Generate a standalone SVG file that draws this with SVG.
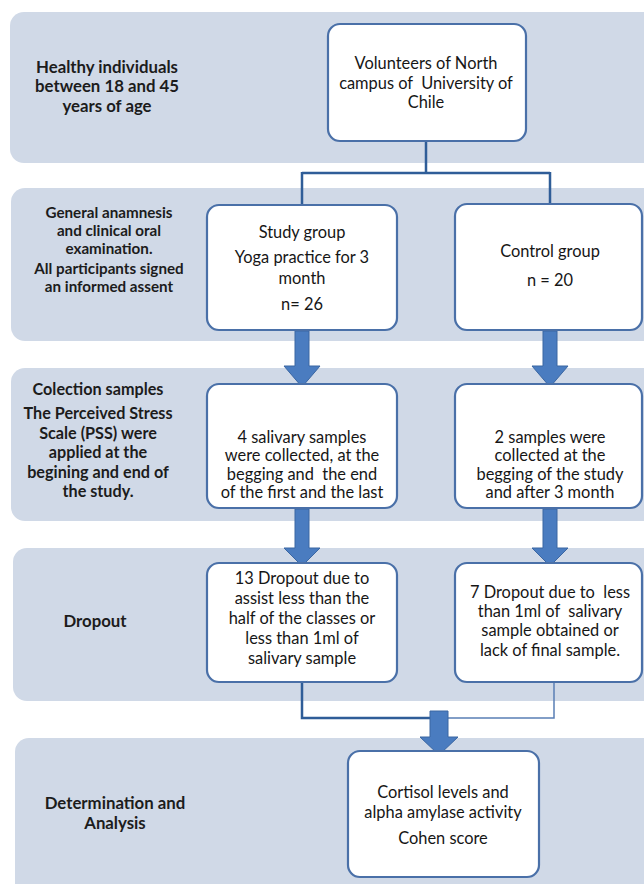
<svg xmlns="http://www.w3.org/2000/svg" width="644" height="884" viewBox="0 0 644 884">
<defs>
<style>
.band{fill:#d0d9e7;}
.box{fill:#ffffff;stroke:#4a70a8;stroke-width:2.2;}
.lbl{font-family:Lato,"Liberation Sans",sans-serif;font-size:16.8px;font-weight:bold;fill:#1c1c1c;text-anchor:middle;}
.sm{font-size:15.2px;}
.md{font-size:16.2px;}
.txt{font-family:Lato,"Liberation Sans",sans-serif;font-size:16.4px;fill:#161616;text-anchor:middle;}
.con{fill:none;stroke:#2f5d98;stroke-width:2.5;}
.arr{fill:#4a7cc0;stroke:#3a66a2;stroke-width:1;}
</style>
</defs>
<rect width="644" height="884" fill="#ffffff"/>
<g id="bands">
<rect class="band" x="10" y="12" width="660" height="151" rx="14"/>
<rect class="band" x="11" y="188" width="660" height="153" rx="14"/>
<rect class="band" x="11" y="368" width="660" height="153" rx="14"/>
<rect class="band" x="13" y="548" width="660" height="153" rx="14"/>
<rect class="band" x="15" y="738" width="660" height="160" rx="14"/>
</g>
<g id="label-row1">
<text class="lbl" x="107" y="73">Healthy individuals</text>
<text class="lbl" x="107" y="92">between 18 and 45</text>
<text class="lbl" x="107" y="112">years of age</text>
</g>
<g id="label-row2">
<text class="lbl sm" x="109" y="218">General anamnesis</text>
<text class="lbl sm" x="109" y="236">and clinical oral</text>
<text class="lbl sm" x="109" y="254">examination.</text>
<text class="lbl sm" x="109" y="274">All participants signed</text>
<text class="lbl sm" x="109" y="292">an informed assent</text>
</g>
<g id="label-row3">
<text class="lbl md" x="98" y="395">Colection samples</text>
<text class="lbl md" x="98" y="419">The Perceived Stress</text>
<text class="lbl md" x="98" y="438.5">Scale (PSS) were</text>
<text class="lbl md" x="98" y="458">applied at the</text>
<text class="lbl md" x="98" y="477.5">begining and end of</text>
<text class="lbl md" x="98" y="497">the study.</text>
</g>
<g id="label-row4">
<text class="lbl" x="95" y="627">Dropout</text>
</g>
<g id="label-row5">
<text class="lbl" x="115" y="809">Determination and</text>
<text class="lbl" x="115" y="829">Analysis</text>
</g>
<g id="connectors">
<path class="con" d="M426,141 V173 M302,173 H550 M302,172 V205 M550,172 V204"/>
<path class="con" d="M302,682 V718 H440"/>
<path fill="none" stroke="#5a7fb5" stroke-width="1.5" d="M440,718 H554 V682"/>
<path class="arr" d="M295,331 H309 V366 H320 L302,387 L284,366 H295 Z"/>
<path class="arr" d="M543,331 H557 V366 H568 L550,387 L532,366 H543 Z"/>
<path class="arr" d="M295,509 H309 V548 H320 L302,566 L284,548 H295 Z"/>
<path class="arr" d="M543,509 H557 V548 H568 L550,566 L532,548 H543 Z"/>
<path class="arr" d="M430,711 H448 V737 H458 L439,755 L420,737 H430 Z"/>
</g>
<g id="node-volunteers">
<rect class="box" x="328" y="24" width="198" height="117" rx="12"/>
<text class="txt" x="426" y="69">Volunteers of North</text>
<text class="txt" x="426" y="89" xml:space="preserve">campus of  University of</text>
<text class="txt" x="426" y="108">Chile</text>
</g>
<g id="node-study">
<rect class="box" x="207" y="205" width="190" height="125" rx="12"/>
<text class="txt" x="302" y="238">Study group</text>
<text class="txt" x="302" y="263">Yoga practice for 3</text>
<text class="txt" x="302" y="284">month</text>
<text class="txt" x="302" y="310">n= 26</text>
</g>
<g id="node-control">
<rect class="box" x="455" y="204" width="187" height="126" rx="12"/>
<text class="txt" x="550" y="257">Control group</text>
<text class="txt" x="550" y="286">n = 20</text>
</g>
<g id="node-samples-study">
<rect class="box" x="207" y="384" width="190" height="124" rx="12"/>
<text class="txt" x="302" y="443">4 salivary samples</text>
<text class="txt" x="302" y="461">were collected, at the</text>
<text class="txt" x="302" y="480" xml:space="preserve">begging and  the end</text>
<text class="txt" x="302" y="498">of the first and the last</text>
</g>
<g id="node-samples-control">
<rect class="box" x="455" y="384" width="187" height="124" rx="12"/>
<text class="txt" x="550" y="443">2 samples were</text>
<text class="txt" x="550" y="461">collected at the</text>
<text class="txt" x="550" y="480">begging of the study</text>
<text class="txt" x="550" y="498">and after 3 month</text>
</g>
<g id="node-dropout-study">
<rect class="box" x="207" y="563" width="190" height="119" rx="12"/>
<text class="txt" x="302" y="584">13 Dropout due to</text>
<text class="txt" x="302" y="604">assist less than the</text>
<text class="txt" x="302" y="624">half of the classes or</text>
<text class="txt" x="302" y="644">less than 1ml of</text>
<text class="txt" x="302" y="664">salivary sample</text>
</g>
<g id="node-dropout-control">
<rect class="box" x="455" y="563" width="187" height="119" rx="12"/>
<text class="txt" x="550" y="598" xml:space="preserve">7 Dropout due to  less</text>
<text class="txt" x="550" y="617" xml:space="preserve">than 1ml of  salivary</text>
<text class="txt" x="550" y="636">sample obtained or</text>
<text class="txt" x="550" y="656">lack of final sample.</text>
</g>
<g id="node-analysis">
<rect class="box" x="348" y="751" width="191" height="126" rx="12"/>
<text class="txt" x="443" y="798">Cortisol levels and</text>
<text class="txt" x="443" y="818">alpha amylase activity</text>
<text class="txt" x="443" y="844">Cohen score</text>
</g>
</svg>
